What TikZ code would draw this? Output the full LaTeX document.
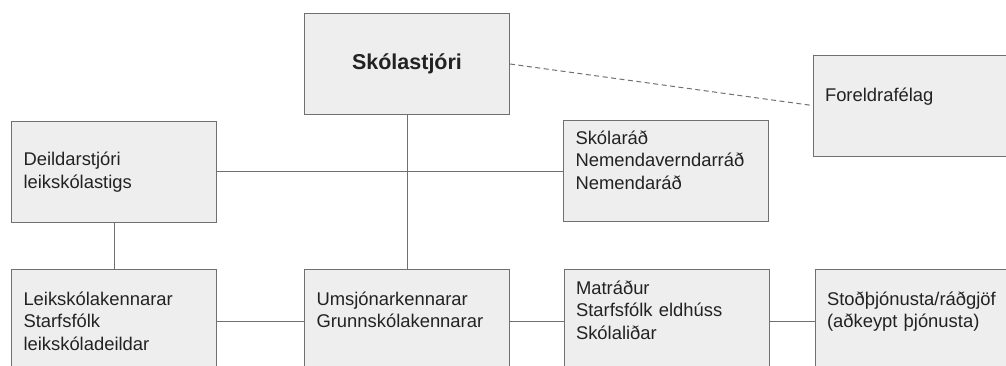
\documentclass[tikz,border=0pt]{standalone}
\usepackage{fontspec}
\setmainfont{Liberation Sans}
\definecolor{boxfill}{HTML}{EEEEEE}
\definecolor{boxline}{HTML}{707070}
\definecolor{boxtext}{HTML}{222222}
\begin{document}
\begin{tikzpicture}[x=1pt,y=-1pt,
    unit/.style={draw=boxline,fill=boxfill,line width=1pt,text=boxtext,
      minimum width=205pt,minimum height=101pt,inner xsep=12pt,
      text width=181pt,align=left,font=\fontsize{18.4}{22.5}\selectfont},
    lowunit/.style={unit,minimum height=104pt},
    link/.style={draw=boxline,line width=1pt}]
\useasboundingbox (0,0) rectangle (1006,365);
\node[unit,align=center,font=\fontsize{21.5}{26}\selectfont\bfseries] (skolastjori) at (407,64) {Skólastjóri};
\node[unit] (deild) at (114,172) {Deildarstjóri\\leikskólastigs};
\node[unit] (skolarad) at (666,171) {Skólaráð\\Nemendaverndarráð\\Nemendaráð\\\mbox{}};
\node[unit] (foreldra) at (915.5,105.5) {Foreldrafélag\\\mbox{}};
\node[lowunit] (leik) at (114,321) {Leikskólakennarar\\Starfsfólk\\leikskóladeildar};
\node[lowunit] (umsj) at (407,321) {Umsjónarkennarar\\Grunnskólakennarar\\\mbox{}};
\node[lowunit] (matr) at (666.5,321) {Matráður\\Starfsfólk eldhúss\\Skólaliðar\\\mbox{}};
\node[lowunit] (stod) at (917.5,321) {Stoðþjónusta/ráðgjöf\\(aðkeypt þjónusta)\\\mbox{}};
\draw[link] (skolastjori) -- (umsj);
\draw[link] (deild.east |- skolarad.west) -- (skolarad.west);
\draw[link] (deild) -- (leik);
\draw[link] (leik) -- (umsj);
\draw[link] (umsj) -- (matr);
\draw[link] (matr) -- (stod);
\draw[link,dash pattern=on 5pt off 3.5pt] (skolastjori.east) -- (foreldra.west);
\end{tikzpicture}
\end{document}
